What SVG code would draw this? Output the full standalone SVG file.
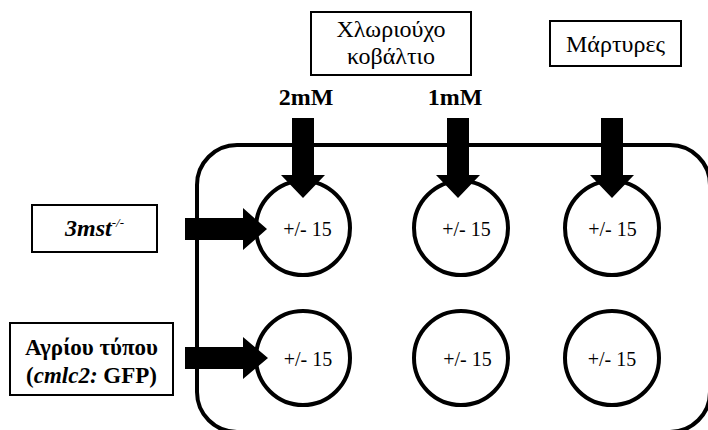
<svg xmlns="http://www.w3.org/2000/svg" width="708" height="430" viewBox="0 0 708 430">
  <!-- plate outline -->
  <g id="plate">
    <rect x="197" y="145" width="513" height="287" rx="40" ry="40" fill="none" stroke="#000000" stroke-width="4"/>
  </g>

  <!-- wells -->
  <g id="well-1-1"><circle cx="303" cy="228" r="47" fill="#ffffff" stroke="#000000" stroke-width="4"/><text font-family="Liberation Serif" font-size="20" text-anchor="middle" x="307.5" y="236">+/- 15</text></g>
  <g id="well-1-2"><circle cx="461" cy="228" r="47" fill="#ffffff" stroke="#000000" stroke-width="4"/><text font-family="Liberation Serif" font-size="20" text-anchor="middle" x="466.5" y="236">+/- 15</text></g>
  <g id="well-1-3"><circle cx="612" cy="228" r="47" fill="#ffffff" stroke="#000000" stroke-width="4"/><text font-family="Liberation Serif" font-size="20" text-anchor="middle" x="612.5" y="236">+/- 15</text></g>
  <g id="well-2-1"><circle cx="303" cy="358" r="47" fill="#ffffff" stroke="#000000" stroke-width="4"/><text font-family="Liberation Serif" font-size="20" text-anchor="middle" x="308" y="366">+/- 15</text></g>
  <g id="well-2-2"><circle cx="461" cy="358" r="47" fill="#ffffff" stroke="#000000" stroke-width="4"/><text font-family="Liberation Serif" font-size="20" text-anchor="middle" x="467.5" y="366">+/- 15</text></g>
  <g id="well-2-3"><circle cx="612" cy="358" r="47" fill="#ffffff" stroke="#000000" stroke-width="4"/><text font-family="Liberation Serif" font-size="20" text-anchor="middle" x="612" y="366">+/- 15</text></g>

  <!-- labels -->
  <g id="cobalt">
    <rect x="311" y="12" width="160" height="63" fill="#ffffff" stroke="#000000" stroke-width="2"/>
    <text font-family="Liberation Serif" font-size="24" text-anchor="middle" x="391" y="37">Χλωριούχο</text>
    <text font-family="Liberation Serif" font-size="24" text-anchor="middle" x="391" y="64">κοβάλτιο</text>
  </g>
  <g id="controls">
    <rect x="550" y="21" width="131" height="45" fill="#ffffff" stroke="#000000" stroke-width="2"/>
    <text font-family="Liberation Serif" font-size="24" text-anchor="middle" x="615.5" y="52">Μάρτυρες</text>
  </g>
  <g id="dose-2mM"><text font-family="Liberation Serif" font-size="24" font-weight="bold" text-anchor="middle" x="306" y="105">2mM</text></g>
  <g id="dose-1mM"><text font-family="Liberation Serif" font-size="24" font-weight="bold" text-anchor="middle" x="455" y="105">1mM</text></g>
  <g id="mutant">
    <rect x="32" y="205" width="125" height="47" fill="#ffffff" stroke="#000000" stroke-width="2"/>
    <text font-family="Liberation Serif" font-size="24" font-weight="bold" font-style="italic" text-anchor="middle" x="94.5" y="236">3mst<tspan font-size="13" font-weight="normal" dy="-9">-/-</tspan></text>
  </g>
  <g id="wildtype">
    <rect x="10" y="323" width="163" height="72" fill="#ffffff" stroke="#000000" stroke-width="2"/>
    <text font-family="Liberation Serif" font-size="23" font-weight="bold" text-anchor="middle" x="91.5" y="355">Αγρίου τύπου</text>
    <text font-family="Liberation Serif" font-size="23" font-weight="bold" text-anchor="middle" x="91.5" y="383">(<tspan font-style="italic">cmlc2:</tspan> GFP)</text>
  </g>

  <!-- block arrows -->
  <g id="connectors" fill="#000000">
    <path d="M 292 118 H 314 V 175 H 325 L 303 198 L 281 175 H 292 Z"/>
    <path d="M 447 118 H 469 V 175 H 480 L 458 198 L 436 175 H 447 Z"/>
    <path d="M 601 118 H 623 V 175 H 634 L 612 198 L 590 175 H 601 Z"/>
    <path d="M 185 218 H 243 V 208 L 267 229 L 243 250 V 240 H 185 Z"/>
    <path d="M 185 347 H 243 V 337 L 268 358 L 243 379 V 369 H 185 Z"/>
  </g>
</svg>
